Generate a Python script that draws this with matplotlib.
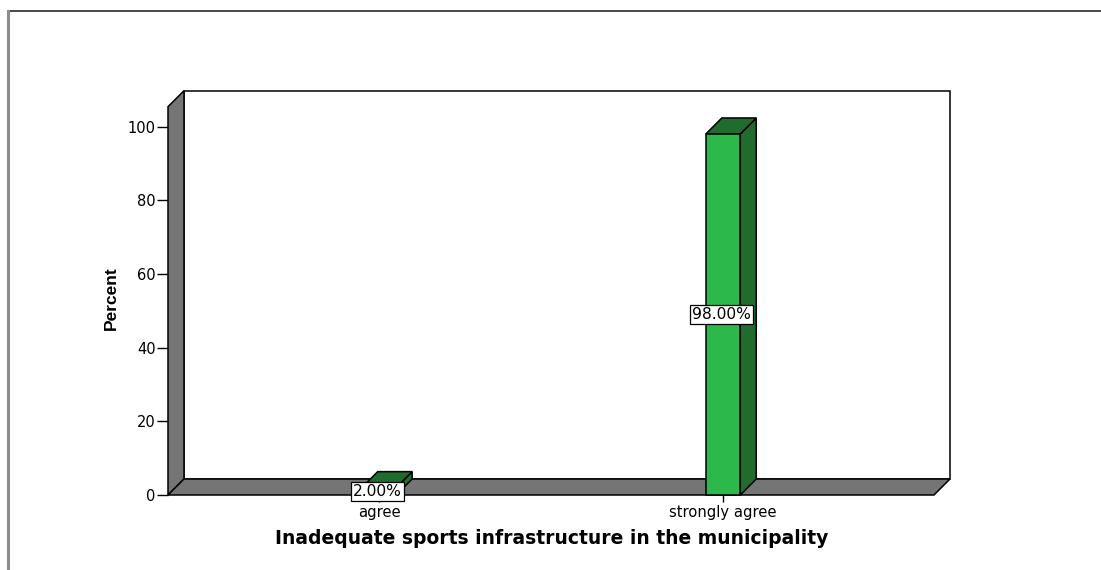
import matplotlib
matplotlib.use("Agg")
import matplotlib.pyplot as plt
from matplotlib.patches import Polygon
from matplotlib.lines import Line2D

# data
categories = ["agree", "strongly agree"]
percents = [2.0, 98.0]
yticks = [0, 20, 40, 60, 80, 100]

W, H = 1101, 570
DEPTH_PX = 16
BAR_WIDTH = 0.1

wall_gray = "#757575"
bar_front = "#2db84b"
bar_dark = "#1f6c2d"

fig = plt.figure(figsize=(W / 100, H / 100), dpi=100)
fig.patch.set_facecolor("white")

# axes = front plane of the 3D box (pixels measured from reference)
left_px, right_px = 168, 934
bottom_px, top_px = 495, 106.7
ax = fig.add_axes([left_px / W, 1 - bottom_px / H,
                   (right_px - left_px) / W, (bottom_px - top_px) / H])
xmin, xmax = -0.613, 1.613
ymin, ymax = 0, 105.4
ax.set_xlim(xmin, xmax)
ax.set_ylim(ymin, ymax)
ax.patch.set_visible(False)
for s in ax.spines.values():
    s.set_visible(False)

# depth offset in data units
dx = DEPTH_PX * (xmax - xmin) / (right_px - left_px)
dy = DEPTH_PX * (ymax - ymin) / (bottom_px - top_px)

def face(pts, fc, z):
    p = Polygon(pts, closed=True, facecolor=fc, edgecolor="black",
                linewidth=1.1, clip_on=False, zorder=z, joinstyle="miter")
    ax.add_patch(p)

# back wall, left wall and floor
face([(xmin + dx, dy), (xmax + dx, dy), (xmax + dx, ymax + dy), (xmin + dx, ymax + dy)], "white", 1)
face([(xmin, 0), (xmin, ymax), (xmin + dx, ymax + dy), (xmin + dx, dy)], wall_gray, 2)
face([(xmin, 0), (xmax, 0), (xmax + dx, dy), (xmin + dx, dy)], wall_gray, 2)

# 3D bars
for i, v in enumerate(percents):
    l, r = i - BAR_WIDTH / 2, i + BAR_WIDTH / 2
    face([(r, 0), (r + dx, dy), (r + dx, v + dy), (r, v)], bar_dark, 3)
    face([(l, v), (r, v), (r + dx, v + dy), (l + dx, v + dy)], bar_dark, 3)
    face([(l, 0), (r, 0), (r, v), (l, v)], bar_front, 4)
    ax.text(i - 0.004, v / 2, f"{v:.2f}%", ha="center", va="center", fontsize=11.2,
            family="DejaVu Sans", zorder=6,
            bbox=dict(boxstyle="square,pad=0.13", fc="white", ec="black", lw=0.9))

ax.set_yticks(yticks)
ax.set_yticklabels([str(t) for t in yticks], fontsize=10.5, family="DejaVu Sans")
ax.set_xticks(range(len(categories)))
ax.set_xticklabels(categories, fontsize=10.6, family="DejaVu Sans")
ax.tick_params(axis="y", direction="out", length=8, width=1.0, pad=1)
ax.tick_params(axis="x", direction="out", length=5, width=1.0, pad=2)

fig.text(111 / W, 1 - 298 / H, "Percent", rotation=90, ha="center", va="center",
         fontsize=12.5, fontweight="bold", family="Liberation Sans")
fig.text(552 / W, 1 - 538 / H, "Inadequate sports infrastructure in the municipality",
         ha="center", va="center", fontsize=13.5, fontweight="bold", family="DejaVu Sans")

# outer frame lines
fig.add_artist(Line2D([8 / W, 1], [1 - 11 / H, 1 - 11 / H], color="#3a3a3a", lw=1.3))
fig.add_artist(Line2D([8 / W, 8 / W], [0, 1 - 11 / H], color="#8c8c8c", lw=2.2))

fig.savefig("out.png", dpi=100)
